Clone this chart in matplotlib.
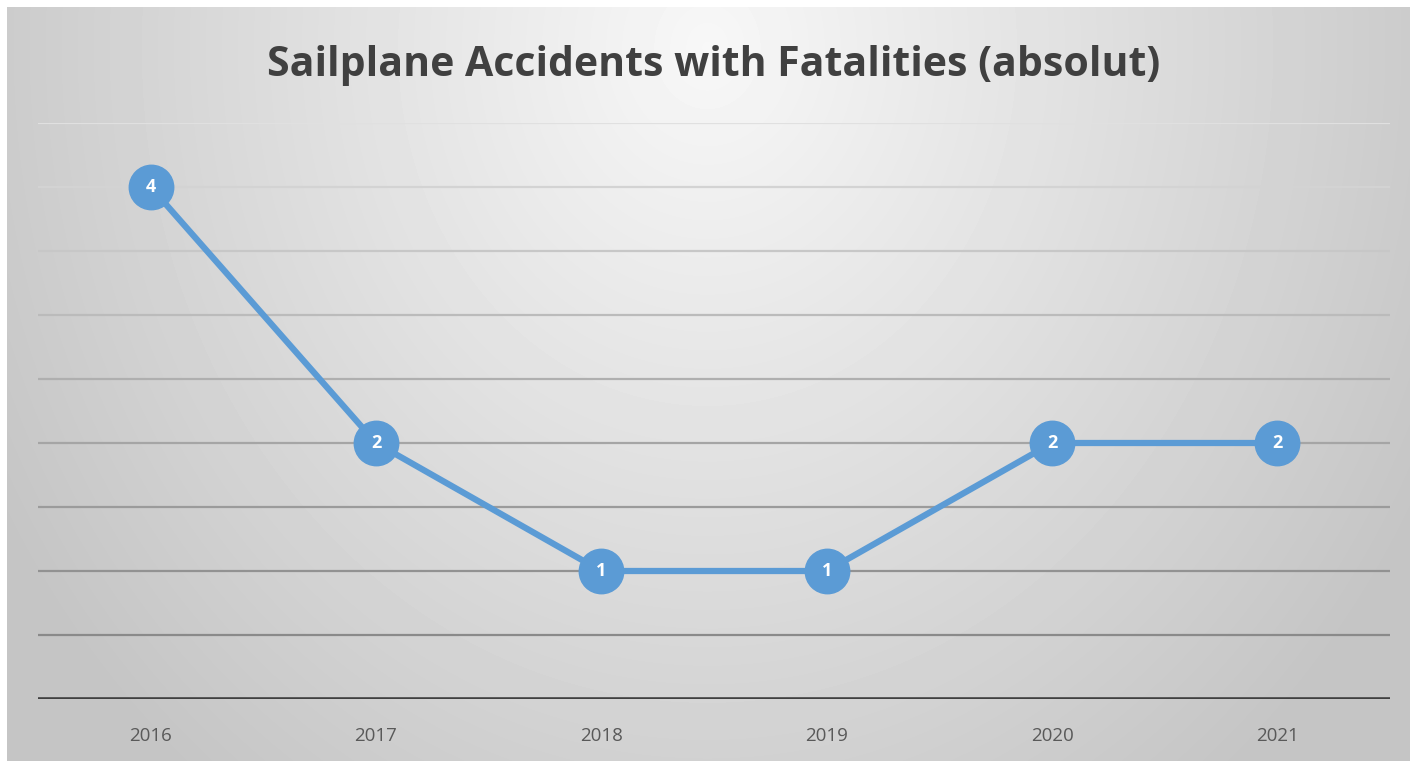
import numpy as np
import matplotlib
matplotlib.use('Agg')
import matplotlib.pyplot as plt

years = ['2016', '2017', '2018', '2019', '2020', '2021']
fatalities = [4, 2, 1, 1, 2, 2]
grid_levels = [0.5, 1.0, 1.5, 2.0, 2.5, 3.0, 3.5, 4.0, 4.5]

title = 'Sailplane Accidents with Fatalities (absolut)'
line_color = '#5b9bd5'

W, H = 1410, 761
fig = plt.figure(figsize=(W / 100, H / 100), dpi=100)
fig.patch.set_facecolor('white')

# radial gradient background for the chart box
bg = fig.add_axes([7 / W, 0, (W - 7) / W, (H - 7) / H])
bg.set_axis_off()
yy, xx = np.mgrid[0:H - 7, 0:W - 7]
cx, cy = 700, 40
r = np.sqrt(((xx - cx) / 820.0) ** 2 + ((yy - cy) / 950.0) ** 2)
shade = np.clip(0.97 - 0.2 * r, 0.77, 0.97)
bg.imshow(shade, cmap='gray', vmin=0, vmax=1, aspect='auto', interpolation='bilinear')

ax = fig.add_axes([38 / W, (H - 699) / H, 1352 / W, (699 - 123) / H])
ax.patch.set_alpha(0)
x = np.arange(len(years))
ax.set_xlim(-0.5, len(years) - 0.5)
ax.set_ylim(0, 4.5)

# gridlines get lighter towards the top
for lvl in grid_levels:
    g = 0.52 + 0.36 * (lvl / 4.5) ** 1.3
    ax.axhline(lvl, color=(g, g, g), lw=1.6, zorder=1)
ax.axhline(0, color='#404040', lw=2.6, zorder=2)

ax.plot(x, fatalities, color=line_color, lw=4.5, marker='o', markersize=32,
        markerfacecolor=line_color, markeredgecolor=line_color, zorder=3)
for xi, v in zip(x, fatalities):
    ax.text(xi, v, str(v), color='white', fontsize=13, fontweight='bold',
            family='Open Sans', ha='center', va='center', zorder=4)

for s in ax.spines.values():
    s.set_visible(False)
ax.set_yticks([])
ax.set_xticks(x)
ax.set_xticklabels(years, color='#595959', fontsize=13.5, family='Open Sans')
ax.tick_params(axis='x', length=0, pad=20)

fig.text(714 / W, 1 - 66 / H, title, ha='center', va='center', fontsize=29.5,
         fontweight='bold', color='#404040', family='Open Sans')

fig.savefig('out.png', dpi=100, facecolor='white')
